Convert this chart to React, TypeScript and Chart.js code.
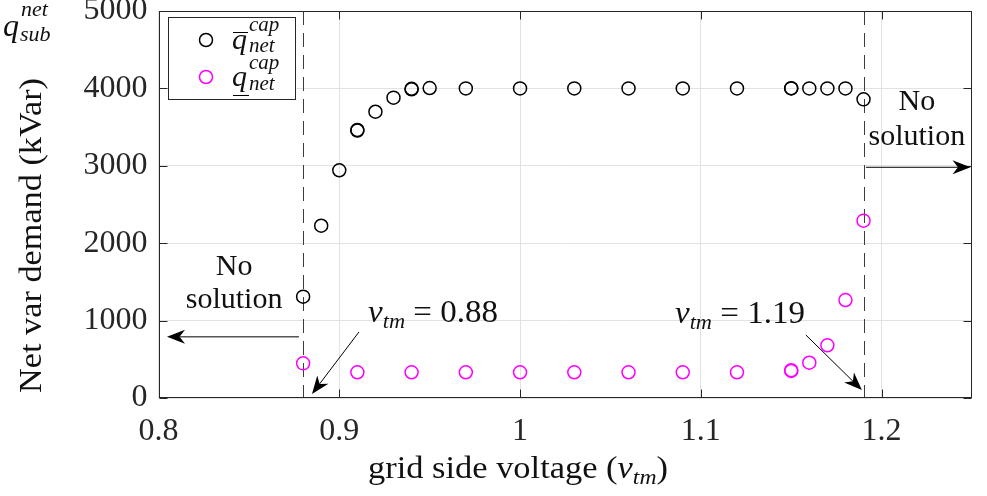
import React, { useEffect, useRef } from "react";
import { Chart, registerables } from "chart.js";

Chart.register(...registerables);

// ---- data ----
const xUpper = [0.88, 0.89, 0.9, 0.91, 0.91, 0.92, 0.93, 0.94, 0.94, 0.95, 0.97, 1.0, 1.03, 1.06, 1.09, 1.12, 1.15, 1.15, 1.16, 1.17, 1.18, 1.19];
const yUpper = [1309, 2226, 2942, 3455, 3463, 3699, 3880, 3989, 3995, 4005, 4000, 4000, 4000, 4000, 4000, 4000, 4000, 4003, 4000, 4000, 4000, 3859];
const xLower = [0.88, 0.91, 0.94, 0.97, 1.0, 1.03, 1.06, 1.09, 1.12, 1.15, 1.15, 1.16, 1.17, 1.18, 1.19];
const yLower = [448, 332, 332, 332, 332, 332, 332, 332, 332, 349, 360, 456, 681, 1266, 2291];
const xTicks = [0.8, 0.9, 1, 1.1, 1.2];
const yTicks = [0, 1000, 2000, 3000, 4000, 5000];
const boundaries = [0.88, 1.19];

const SERIF = "'Liberation Serif', 'DejaVu Serif', serif";
const FRAME = "#262626";
const TEXT = "#111";

type Run = { t: string; it?: boolean; size: number; dy?: number };

function runsWidth(ctx: CanvasRenderingContext2D, runs: Run[]) {
  let w = 0;
  for (const r of runs) {
    ctx.font = `${r.it ? "italic " : ""}${r.size}px ${SERIF}`;
    w += ctx.measureText(r.t).width;
  }
  return w;
}

// draw runs starting at x (left) on baseline, scaled horizontally to targetW
function drawRuns(ctx: CanvasRenderingContext2D, runs: Run[], x: number, baseline: number, targetW: number) {
  const w = runsWidth(ctx, runs);
  const s = targetW / w;
  ctx.save();
  ctx.translate(x, baseline);
  ctx.scale(s, 1);
  ctx.textAlign = "left";
  ctx.textBaseline = "alphabetic";
  ctx.fillStyle = TEXT;
  let cx = 0;
  for (const r of runs) {
    ctx.font = `${r.it ? "italic " : ""}${r.size}px ${SERIF}`;
    ctx.fillText(r.t, cx, r.dy || 0);
    cx += ctx.measureText(r.t).width;
  }
  ctx.restore();
}

function arrow(ctx: CanvasRenderingContext2D, x1: number, y1: number, x2: number, y2: number) {
  const len = 18, half = 7, notch = 0.7;
  const ang = Math.atan2(y2 - y1, x2 - x1);
  const c = Math.cos(ang), s = Math.sin(ang);
  ctx.save();
  ctx.strokeStyle = "#000";
  ctx.fillStyle = "#000";
  ctx.lineWidth = 1;
  ctx.beginPath();
  ctx.moveTo(x1, y1);
  ctx.lineTo(x2 - c * len * notch, y2 - s * len * notch);
  ctx.stroke();
  ctx.beginPath();
  ctx.moveTo(x2, y2);
  ctx.lineTo(x2 - c * len - s * half, y2 - s * len + c * half);
  ctx.lineTo(x2 - c * len * notch, y2 - s * len * notch);
  ctx.lineTo(x2 - c * len + s * half, y2 - s * len - c * half);
  ctx.closePath();
  ctx.fill();
  ctx.restore();
}

function centerText(ctx: CanvasRenderingContext2D, t: string, x: number, y: number, size: number) {
  ctx.save();
  ctx.font = `${size}px ${SERIF}`;
  ctx.fillStyle = TEXT;
  ctx.textAlign = "center";
  ctx.textBaseline = "alphabetic";
  ctx.fillText(t, x, y);
  ctx.restore();
}

const annotations = {
  id: "annotations",
  beforeDatasetsDraw(chart: any) {
    const { ctx, chartArea: a, scales } = chart;
    ctx.save();
    ctx.strokeStyle = "#3c3c3c";
    ctx.lineWidth = 1;
    ctx.setLineDash([14, 8]);
    for (const v of boundaries) {
      const px = Math.round(scales.x.getPixelForValue(v)) + 0.5;
      ctx.beginPath();
      ctx.moveTo(px, a.top);
      ctx.lineTo(px, a.bottom);
      ctx.stroke();
    }
    ctx.restore();
  },
  afterDraw(chart: any) {
    const { ctx, chartArea: a, scales } = chart;
    const X = (v: number) => scales.x.getPixelForValue(v);
    const Y = (v: number) => scales.y.getPixelForValue(v);

    // frame + inward ticks
    ctx.save();
    ctx.strokeStyle = FRAME;
    ctx.lineWidth = 1;
    const L = Math.round(a.left) + 0.5, R = Math.round(a.right) - 0.5;
    const T = Math.round(a.top) + 0.5, B = Math.round(a.bottom) - 0.5;
    ctx.strokeRect(L, T, R - L, B - T);
    ctx.beginPath();
    for (const v of xTicks) {
      const px = Math.round(X(v)) + 0.5;
      ctx.moveTo(px, B); ctx.lineTo(px, B - 8);
      ctx.moveTo(px, T); ctx.lineTo(px, T + 8);
    }
    for (const v of yTicks) {
      const py = Math.round(Y(v)) + 0.5;
      ctx.moveTo(L, py); ctx.lineTo(L + 8, py);
      ctx.moveTo(R, py); ctx.lineTo(R - 8, py);
    }
    ctx.stroke();
    ctx.restore();

    // arrows
    arrow(ctx, X(0.8777), Y(790), X(0.8047), Y(790));
    arrow(ctx, X(1.1913), Y(2981), X(1.2492), Y(2981));
    arrow(ctx, X(0.9109), Y(853), X(0.8849), Y(52));
    arrow(ctx, X(1.1581), Y(814), X(1.1891), Y(103));

    // "No solution" labels
    centerText(ctx, "No", X(0.8418), Y(1589), 30);
    centerText(ctx, "solution", X(0.8418), Y(1163), 30);
    centerText(ctx, "No", X(1.2195), Y(3721), 30);
    centerText(ctx, "solution", X(1.2195), Y(3269), 30);

    // v_tm annotations
    const vRuns = (num: string): Run[] => [
      { t: "v", it: true, size: 31 },
      { t: "tm", it: true, size: 21, dy: 6 },
      { t: " = ", size: 31 },
      { t: num, size: 31 },
    ];
    drawRuns(ctx, vRuns("0.88"), X(0.9159), Y(982), X(0.9878) - X(0.9159));
    drawRuns(ctx, vRuns("1.19"), X(1.0857), Y(969), X(1.1576) - X(1.0857));

    // x axis title
    drawRuns(
      ctx,
      [
        { t: "grid side voltage (", size: 32 },
        { t: "v", it: true, size: 32 },
        { t: "tm", it: true, size: 22, dy: 6 },
        { t: ")", size: 32 },
      ],
      368, 478, 300
    );

    // y axis title (rotated)
    ctx.save();
    ctx.translate(41, 393);
    ctx.rotate(-Math.PI / 2);
    drawRuns(ctx, [{ t: "Net var demand (kVar)", size: 31 }], 0, 0, 315);
    ctx.restore();

    // q_sub^net corner label
    ctx.save();
    ctx.fillStyle = TEXT;
    ctx.textAlign = "left";
    ctx.font = `italic 32px ${SERIF}`;
    ctx.fillText("q", 3, 36);
    ctx.font = `italic 22px ${SERIF}`;
    ctx.fillText("net", 21, 16);
    ctx.fillText("sub", 20, 41);
    ctx.restore();

    // legend
    ctx.save();
    ctx.fillStyle = "#fff";
    ctx.fillRect(168.5, 17.5, 127, 82);
    ctx.strokeStyle = FRAME;
    ctx.lineWidth = 1;
    ctx.strokeRect(168.5, 17.5, 127, 82);
    ctx.lineWidth = 1.5;
    ctx.strokeStyle = "#000";
    ctx.beginPath(); ctx.arc(206, 40, 6.5, 0, Math.PI * 2); ctx.stroke();
    ctx.strokeStyle = "#ff00ff";
    ctx.beginPath(); ctx.arc(206, 77, 6.5, 0, Math.PI * 2); ctx.stroke();
    ctx.fillStyle = TEXT;
    ctx.font = `italic 30px ${SERIF}`;
    ctx.fillText("q", 232, 49);
    ctx.fillText("q", 232, 86);
    ctx.font = `italic 21px ${SERIF}`;
    ctx.fillText("cap", 249, 31);
    ctx.fillText("net", 249, 52);
    ctx.fillText("cap", 249, 69);
    ctx.fillText("net", 249, 90);
    ctx.strokeStyle = "#000";
    ctx.lineWidth = 1.2;
    ctx.beginPath();
    ctx.moveTo(233, 32.5); ctx.lineTo(248, 32.5);
    ctx.moveTo(233, 95.5); ctx.lineTo(249, 95.5);
    ctx.stroke();
    ctx.restore();
  },
};

export default function App() {
  const ref = useRef<HTMLCanvasElement | null>(null);
  useEffect(() => {
    document.body.style.margin = "0";
    const canvas = ref.current!;
    const chart = new Chart(canvas, {
      type: "scatter",
      data: {
        datasets: [
          {
            label: "upper",
            data: xUpper.map((x, i) => ({ x, y: yUpper[i] })),
            borderColor: "#000000",
            backgroundColor: "rgba(0,0,0,0)",
            pointRadius: 6.5,
            pointBorderWidth: 1.5,
            showLine: false,
          },
          {
            label: "lower",
            data: xLower.map((x, i) => ({ x, y: yLower[i] })),
            borderColor: "#ff00ff",
            backgroundColor: "rgba(0,0,0,0)",
            pointRadius: 6.5,
            pointBorderWidth: 1.5,
            showLine: false,
          },
        ],
      },
      options: {
        responsive: false,
        animation: false,
        devicePixelRatio: 1,
        layout: { padding: { top: 11, right: 15, left: 0, bottom: 0 } },
        plugins: { legend: { display: false }, tooltip: { enabled: false } },
        scales: {
          x: {
            type: "linear",
            min: 0.8,
            max: 1.25,
            afterBuildTicks: (s: any) => { s.ticks = xTicks.map((v) => ({ value: v })); },
            afterFit: (s: any) => { s.height = 98; s.paddingLeft = 0; s.paddingRight = 0; },
            grid: { color: "#e2e2e2", drawTicks: false, lineWidth: 1 },
            border: { display: false },
            ticks: {
              font: { family: SERIF, size: 32 },
              color: FRAME,
              padding: 14,
              maxRotation: 0,
              callback: (v: any) => String(+Number(v).toFixed(2)),
            },
          },
          y: {
            type: "linear",
            min: 0,
            max: 5000,
            afterBuildTicks: (s: any) => { s.ticks = yTicks.map((v) => ({ value: v })); },
            afterFit: (s: any) => { s.width = 158.5; s.paddingTop = 0; s.paddingBottom = 0; },
            grid: { color: "#e2e2e2", drawTicks: false, lineWidth: 1 },
            border: { display: false },
            ticks: {
              font: { family: SERIF, size: 32 },
              color: FRAME,
              padding: 11,
              callback: (v: any) => String(v),
            },
          },
        },
      },
      plugins: [annotations],
    });
    return () => chart.destroy();
  }, []);
  return (
    <div style={{ width: 987, height: 496, background: "#fff" }}>
      <canvas ref={ref} width={987} height={496} />
    </div>
  );
}
